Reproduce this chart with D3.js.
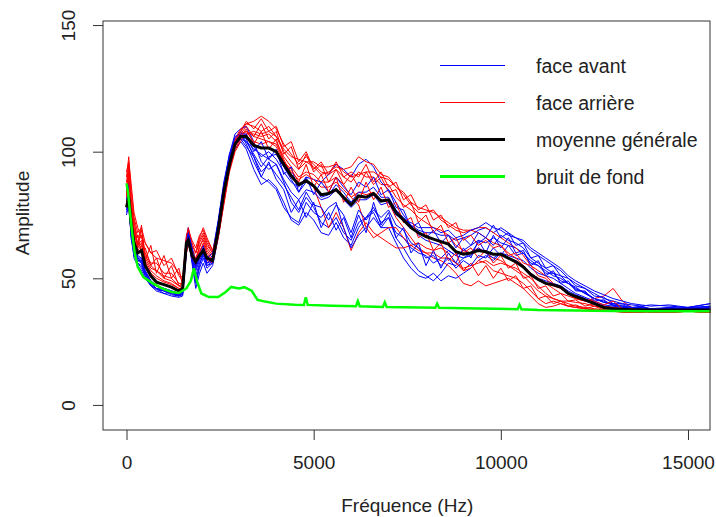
<!DOCTYPE html>
<html>
<head>
<meta charset="utf-8">
<script src="https://cdn.jsdelivr.net/npm/d3@7"></script>
<style>
  body { margin: 0; background: #fff; }
  text { font-family: "Liberation Sans", Arial, sans-serif; fill: #222; }
</style>
</head>
<body>
<div id="my_chart"></div>
<script>
// frequency grid (Hz) shared by the spectra
var freq = [0, 60, 120, 200, 300, 400, 500, 650, 800, 1000, 1200, 1400, 1500, 1600, 1650, 1750, 1850, 1950, 2050, 2150,
  2300, 2450, 2600, 2750, 2900, 3050, 3200, 3400, 3600, 3800, 4000, 4200, 4400, 4600, 4800, 5000, 5200, 5400, 5600, 5800,
  6000, 6200, 6400, 6600, 6800, 7000, 7200, 7400, 7600, 7800, 8000, 8200, 8400, 8600, 8800, 9000, 9200, 9400, 9600, 9800,
  10000, 10200, 10400, 10600, 10800, 11000, 11200, 11400, 11600, 11800, 12000, 12250, 12500, 12750, 13000, 13250, 13500, 13750, 14000, 14500,
  15000, 15600];

// face avant (blue)
var front1 = [76, 80, 68, 58, 55, 53, 50, 47, 45, 44, 43, 42.5, 43, 60, 66, 56, 46, 52, 56, 52,
  55, 66, 80, 93, 101, 104, 101, 93, 87, 89, 86, 80, 73, 71, 76, 73, 68, 67, 72, 66,
  63, 70, 74, 78, 72, 74, 66, 62, 57, 53, 51, 49, 52, 56, 55, 58, 60, 64, 66, 63,
  67, 65, 64, 62, 58, 56, 54, 52, 51, 48, 46.5, 44, 42, 40.5, 39.5, 38.5, 38, 38.5, 37.5, 38, 37.5, 38.5];
var front2 = [80, 85, 71, 62, 58, 58, 53, 49, 47, 46, 45, 44, 45, 65, 69, 62, 55, 58, 62, 57,
  59, 72, 87, 98, 105, 108, 106, 102, 98, 100, 97, 92, 88, 86, 90, 89, 88, 91, 95, 93,
  90, 95, 97, 94, 88, 85, 80, 75, 71, 67, 65, 64, 63, 61, 59, 58, 59, 62, 60, 58,
  60, 58, 57, 55, 52, 50, 49, 48, 47, 45, 43.5, 42, 40.5, 39, 38.5, 38, 38, 37.5, 38, 37.5, 38, 37.5];
var front3 = [78, 82, 69, 61, 57, 56, 52, 48, 46, 45, 44, 43, 45, 64, 68, 60, 53, 57, 60, 56,
  57, 70, 86, 99, 107, 109, 110, 104, 96, 93, 95, 88, 80, 76, 82, 78, 72, 70, 74, 68,
  65, 72, 74, 76, 70, 70, 64, 58, 54, 51, 50, 52, 49, 51, 50, 52, 54, 57, 59, 57,
  60, 59, 58, 57, 54, 52, 51, 50, 48, 46, 44, 42.5, 41, 39.5, 39, 38.5, 38, 38.5, 38, 38, 38.5, 39];
var front4 = [82, 87, 74, 64, 59, 58, 53, 49, 47, 46, 45, 44, 46, 66, 70, 62, 57, 60, 63, 58,
  60, 73, 88, 99, 105, 106, 104, 99, 94, 98, 99, 94, 89, 84, 88, 86, 82, 83, 87, 84,
  80, 84, 84, 86, 82, 82, 77, 74, 71, 69, 68, 68, 67, 67, 65, 66, 67, 69, 70, 68,
  70, 68, 66, 64, 61, 59, 57, 55, 53, 50, 48, 46, 44, 42, 41, 40, 39.5, 39, 39.5, 39, 38.5, 40];
var front5 = [77, 83, 71, 63, 58, 57, 52, 48, 46, 45.5, 44.5, 43.5, 44, 62, 66, 58, 49, 55, 60, 55,
  56, 69, 85, 97, 104, 106, 105, 98, 90, 88, 85, 78, 74, 72, 80, 76, 74, 78, 80, 70,
  62, 67, 70, 74, 70, 74, 68, 66, 62, 60, 59, 56, 58, 61, 59, 61, 63, 65, 64, 66,
  64, 63, 62, 60, 57, 55, 53, 51, 50, 48, 46, 44, 42, 40.5, 40, 39, 38.5, 38, 37.5, 38, 37.5, 38.5];
var front6 = [85, 88, 73, 63, 58, 56, 52, 49, 47, 46, 45, 44, 45, 64, 67, 60, 55, 59, 62, 58,
  60, 72, 86, 96, 103, 105, 104, 101, 99, 97, 95, 89, 84, 81, 85, 84, 81, 82, 85, 81,
  78, 81, 81, 83, 79, 80, 75, 73, 72, 70, 70, 70, 68, 69, 66, 67, 69, 70, 72, 70,
  69, 67, 66, 65, 62, 60, 58, 56, 54, 51, 49, 47, 45, 43.5, 42, 41, 40, 39.5, 39, 39.5, 38.5, 40];
var front7 = [79, 84, 66, 59, 56, 54, 51, 47, 46, 44, 44.5, 43, 44, 63, 65, 57, 48, 54, 58, 54,
  56, 68, 83, 96, 104, 107, 103, 96, 90, 96, 89, 85, 76, 81, 74, 80, 70, 76, 69, 74,
  66, 75, 68, 80, 71, 76, 66, 70, 60, 64, 55, 61, 54, 60, 56, 62, 58, 65, 60, 67,
  62, 66, 60, 61, 55, 57, 51, 53, 48, 49, 45, 45, 41, 41.5, 39, 39.5, 38, 39, 37.5, 38.5, 38, 39];
var front8 = [81, 86, 72, 62, 57, 57, 52, 48, 47, 45, 44, 43.5, 44.5, 65, 68, 61, 54, 58, 61, 56,
  58, 71, 87, 98, 106, 107, 107, 100, 104, 97, 101, 91, 94, 84, 90, 83, 88, 84, 90, 86,
  83, 88, 86, 90, 83, 85, 78, 77, 70, 72, 66, 69, 64, 67, 62, 66, 63, 68, 66, 71,
  66, 68, 63, 64, 58, 59, 54, 55, 51, 50, 47, 46, 43, 42.5, 40, 40, 38.5, 39, 38, 38.5, 38, 38.5];
var front9 = [75, 79, 67, 60, 56, 55, 51, 47.5, 45.5, 45, 43.5, 43, 43.5, 61, 67, 59, 51, 56, 59, 55,
  57, 69, 84, 96, 103, 105, 102, 98, 92, 95, 91, 87, 82, 77, 84, 79, 78, 73, 79, 75,
  68, 77, 73, 77, 74, 77, 71, 69, 64, 62, 58, 59, 55, 58, 54, 57, 55, 59, 58, 62,
  59, 63, 59, 60, 56, 55, 52, 52, 49, 48, 45.5, 44.5, 42, 41, 39.5, 39, 38, 38.5, 38, 37.5, 38.5, 38];

// face arrière (red)
var back1 = [84, 92, 80, 70, 64, 67, 58, 54, 53, 50, 49, 47, 47, 65, 68, 62, 57, 63, 65, 61,
  58, 68, 82, 95, 104, 108, 111, 112, 114, 112, 109, 103, 99, 95, 98, 95, 92, 91, 93, 90,
  88, 92, 90, 90, 87, 87, 82, 79, 77, 74, 72, 70, 69, 67, 63, 61, 60, 62, 60, 58,
  57, 55, 53, 51, 48, 45, 43, 42, 41, 40, 39, 38.5, 38, 37.5, 37, 37, 36.5, 37, 36.5, 37, 37, 36.5];
var back2 = [80, 89, 76, 68, 62, 64, 57, 53, 51, 49, 48, 46, 46, 62, 64, 59, 57, 61, 63, 59,
  56, 66, 80, 94, 102, 106, 108, 106, 105, 104, 102, 96, 92, 89, 91, 89, 86, 86, 88, 85,
  82, 84, 83, 84, 81, 80, 74, 70, 66, 62, 60, 58, 57, 55, 52, 48, 47, 49, 47, 48,
  49, 50, 48, 46, 43, 40, 38.5, 39, 40, 39, 38.5, 38, 37.5, 37, 37, 36.5, 36.5, 37, 36.5, 36.5, 37, 36.5];
var back3 = [88, 95, 82, 72, 66, 69, 60, 56, 56, 52, 52, 48, 48, 63, 66, 63, 60, 65, 68, 64,
  60, 67, 81, 93, 101, 105, 107, 108, 107, 108, 106, 100, 96, 93, 96, 94, 91, 92, 94, 93,
  94, 98, 96, 95, 91, 90, 86, 83, 79, 76, 76, 77, 73, 71, 69, 68, 69, 68, 66, 64,
  63, 60, 58, 55, 52, 50, 48, 46, 44, 43, 42, 41, 42, 43, 46, 41, 38.5, 37.5, 37, 37.5, 37, 37.5];
var back4 = [79, 86, 75, 66, 61, 63, 56, 52, 50, 48.5, 47.5, 46, 45, 61, 64, 58, 55, 58, 61, 57,
  56, 67, 82, 95, 103, 107, 108, 104, 103, 104, 103, 97, 91, 87, 89, 86, 78, 70, 76, 70,
  61, 68, 72, 68, 66, 64, 62, 62, 63, 64, 62, 61, 62, 60, 56, 53, 54, 57, 56, 53,
  52, 51, 50, 48, 45, 42, 40, 41, 40, 39, 38.5, 38, 37.5, 37.5, 37, 37, 36.5, 36.5, 37, 36.5, 37, 36.5];
var back5 = [90, 98, 85, 74, 68, 70, 64, 60, 58, 57, 56, 52, 50, 66, 70, 64, 60, 64, 67, 63,
  60, 68, 83, 96, 105, 109, 111, 110, 108, 110, 106, 101, 98, 97, 96, 96, 94, 94, 95, 92,
  90, 91, 92, 92, 90, 89, 86, 84, 80, 78, 77, 76, 74, 72, 70, 69, 69, 70, 70, 68,
  66, 64, 62, 59, 55, 53, 51, 48, 46, 44, 42, 41, 40, 39, 38.5, 38, 37.5, 37.5, 37, 37.5, 37, 37.5];
var back6 = [83, 90, 78, 69, 63, 65, 59, 55, 53, 51, 50, 47, 46, 60, 63, 60, 60, 66, 70, 66,
  61, 66, 79, 92, 100, 104, 107, 107, 106, 107, 104, 98, 94, 90, 92, 91, 88, 88, 90, 87,
  82, 79, 70, 66, 68, 70, 70, 66, 63, 61, 60, 60, 58, 58, 56, 54, 55, 56, 57, 55,
  56, 55, 54, 52, 50, 47, 44, 42, 41, 41, 40.5, 40, 39, 38.5, 38, 37.5, 37.5, 37, 37, 37.5, 37, 37];
var back7 = [86, 94, 78, 73, 62, 71, 57, 63, 52, 59, 50, 54, 47, 63, 67, 60, 58, 62, 66, 62,
  59, 67, 81, 94, 103, 107, 110, 106, 111, 105, 108, 99, 102, 93, 99, 92, 95, 88, 93, 87,
  91, 86, 92, 87, 90, 84, 85, 78, 80, 72, 75, 68, 71, 64, 66, 60, 62, 58, 61, 56,
  59, 54, 56, 50, 51, 46, 47, 43, 44, 41, 41.5, 39, 40, 38, 38.5, 37.5, 37.5, 37, 37.5, 36.5, 37, 36.5];
var back8 = [82, 91, 74, 66, 67, 60, 62, 55, 58, 50, 55, 47, 48, 62, 65, 58, 56, 60, 64, 60,
  57, 67, 81, 95, 103, 106, 109, 103, 108, 101, 105, 96, 93, 88, 95, 86, 91, 84, 90, 80,
  86, 80, 88, 81, 86, 78, 80, 72, 74, 66, 68, 61, 64, 57, 60, 53, 56, 51, 55, 50,
  54, 49, 51, 46, 47, 42, 43, 40, 41, 39, 39.5, 38, 39, 37.5, 38, 37, 37, 36.5, 37, 36.5, 37, 36.5];
var back9 = [92, 96, 88, 76, 70, 66, 64, 60, 61, 55, 58, 51, 49, 67, 69, 65, 62, 67, 69, 65,
  61, 69, 83, 96, 104, 108, 112, 109, 113, 108, 110, 102, 104, 96, 100, 93, 96, 91, 96, 90,
  92, 90, 95, 88, 92, 86, 88, 81, 83, 77, 79, 73, 75, 70, 72, 65, 67, 63, 65, 62,
  63, 59, 60, 56, 55, 51, 50, 47, 46, 44, 43, 41.5, 41, 39.5, 41, 38, 38, 37, 37.5, 37, 37, 37];

// moyenne générale (black)
var meanAll = [78, 82, 72, 64, 60, 61, 55, 51, 48.5, 47.5, 46.5, 45, 46, 64, 65, 59, 56.5, 59, 61, 58,
  57, 69, 84, 95, 103, 106, 106, 102.5, 101.5, 101.5, 100, 95, 90.5, 87, 88.5, 86.5, 83, 83.5, 85, 82,
  79, 82.5, 82, 83.5, 80.5, 81, 76, 73, 70, 68, 66.5, 65.5, 64.5, 63.5, 60.5, 59.5, 60, 61, 60.5, 59.5,
  59.5, 58, 56.5, 54.5, 51.5, 49.5, 48, 47.4, 46.5, 44, 42.8, 41.5, 40, 38.5, 38, 37.8, 37.6, 37.6, 37.5, 37.5, 37.5, 37.5];

// bruit de fond (green)
var noiseFreq = [0, 40, 80, 150, 220, 300, 450, 700, 950, 1200, 1400, 1600, 1720, 1800, 1880, 2000, 2200, 2450, 2650, 2800,
  3000, 3150, 3350, 3500, 3700, 4000, 4500, 4740, 4790, 4840, 5500, 6130, 6180, 6230, 6850, 6900, 6950, 8250, 8300, 8350,
  9000, 10450, 10500, 10550, 11000, 12000, 13000, 14000, 15600];
var noiseVal = [87.5, 84, 78, 68, 60, 54.5, 50.5, 48, 46, 44.6, 44.2, 46, 49, 54, 49, 44, 42.6, 42.6, 44.6, 46.6,
  46, 46.5, 45, 41.5, 40.8, 40, 39.6, 39.5, 42.5, 39.5, 39.2, 39, 41, 39, 38.7, 40.5, 38.7, 38.4, 40, 38.4,
  38.2, 37.8, 39.5, 37.8, 37.5, 37.3, 37.1, 37, 37];

var yTicks = [0, 50, 100, 150];
var xTicks = [0, 5000, 10000, 15000];
var legendLabels = ["face avant", "face arrière", "moyenne générale", "bruit de fond"];
var legendColors = ["#0000ff", "#ff0000", "#000000", "#00ff00"];
var legendWidths = [1.2, 1.2, 3, 3];

var frontCurves = [front1, front2, front3, front4, front5, front6, front7, front8, front9];
var backCurves = [back1, back2, back3, back4, back5, back6, back7, back8, back9];

// set the dimensions of the plot box
var W = 716, H = 517;
var box = {left: 103, right: 710, top: 21, bottom: 430};

var svg = d3.select("#my_chart")
  .append("svg")
    .attr("width", W)
    .attr("height", H);

var x = d3.scaleLinear().domain([-628, 15588]).range([box.left, box.right]);
var y = d3.scaleLinear().domain([-9.9, 151.6]).range([box.bottom, box.top]);

var line = d3.line()
  .x(function(d) { return x(d[0]); })
  .y(function(d) { return y(d[1]); });

function pairs(fs, vs) { return fs.map(function(f, i) { return [f, vs[i]]; }); }

var plot = svg.append("g");

// spectra: blue and red interleaved, then mean and noise on top
frontCurves.forEach(function(c, i) {
  plot.append("path").attr("d", line(pairs(freq, c)))
    .attr("fill", "none").attr("stroke", "#0000ff").attr("stroke-width", 1);
  plot.append("path").attr("d", line(pairs(freq, backCurves[i])))
    .attr("fill", "none").attr("stroke", "#ff0000").attr("stroke-width", 1);
});
plot.append("path").attr("d", line(pairs(freq, meanAll)))
  .attr("fill", "none").attr("stroke", "#000").attr("stroke-width", 3);
plot.append("path").attr("d", line(pairs(noiseFreq, noiseVal)))
  .attr("fill", "none").attr("stroke", "#00ff00").attr("stroke-width", 2.5);

// box
svg.append("rect")
  .attr("x", box.left).attr("y", box.top)
  .attr("width", box.right - box.left).attr("height", box.bottom - box.top)
  .attr("fill", "none").attr("stroke", "#333").attr("stroke-width", 1);

// X axis
var xAxis = svg.append("g")
  .attr("transform", "translate(0," + box.bottom + ")")
  .call(d3.axisBottom(x).tickValues(xTicks).tickSize(10).tickPadding(16).tickFormat(d3.format("d")));
xAxis.select(".domain").remove();
xAxis.selectAll("line").attr("stroke", "#333");
xAxis.selectAll("text").style("font-size", "19px").attr("fill", "#222")
  .style("font-family", "'Liberation Sans', Arial, sans-serif");

// Y axis with rotated labels
var yAxis = svg.append("g")
  .attr("transform", "translate(" + box.left + ",0)")
  .call(d3.axisLeft(y).tickValues(yTicks).tickSize(10).tickFormat(d3.format("d")));
yAxis.select(".domain").remove();
yAxis.selectAll("line").attr("stroke", "#333");
yAxis.selectAll("text")
  .attr("x", null).attr("dy", null)
  .attr("transform", "translate(-28,0) rotate(-90)")
  .style("text-anchor", "middle")
  .style("font-size", "19px").attr("fill", "#222")
  .style("font-family", "'Liberation Sans', Arial, sans-serif");

// axis titles
svg.append("text")
  .attr("x", (x(0) + x(15000)) / 2).attr("y", 512)
  .attr("text-anchor", "middle").style("font-size", "19px")
  .text("Fréquence (Hz)");
svg.append("text")
  .attr("transform", "translate(29,213) rotate(-90)")
  .attr("text-anchor", "middle").style("font-size", "19px")
  .text("Amplitude");

// legend
var leg = svg.append("g");
legendLabels.forEach(function(lab, i) {
  var ly = 65.5 + i * 37;
  leg.append("line").attr("x1", 440).attr("x2", 505).attr("y1", ly).attr("y2", ly)
    .attr("stroke", legendColors[i]).attr("stroke-width", legendWidths[i]);
  leg.append("text").attr("x", 536).attr("y", ly + 7)
    .style("font-size", "19.5px").text(lab);
});
</script>
</body>
</html>
